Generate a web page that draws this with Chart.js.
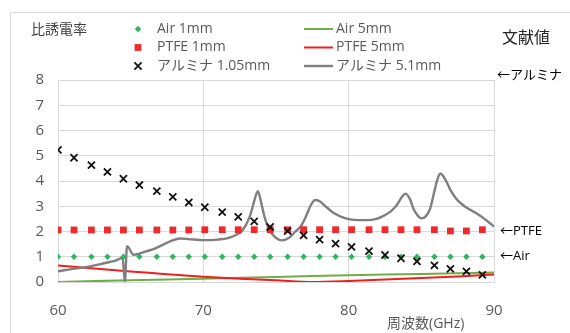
<!DOCTYPE html>
<html lang="ja">
<head>
<meta charset="utf-8">
<title>比誘電率 vs 周波数</title>
<script src="https://cdn.jsdelivr.net/npm/chart.js@4/dist/chart.umd.min.js"></script>
<style>
  html, body { margin: 0; padding: 0; background: #fff; }
  #wrap { width: 570px; height: 333px; position: relative; }
</style>
</head>
<body>
<div id="wrap"><canvas id="c" width="570" height="333"></canvas></div>
<script>
// Measurement frequencies for the thin samples (GHz)
const freqGHz = [60.0, 61.1, 62.3, 63.4, 64.5, 65.6, 66.8, 67.9, 69.0, 70.1,
                 71.3, 72.4, 73.5, 74.6, 75.8, 76.9, 78.0, 79.1, 80.2, 81.4,
                 82.5, 83.6, 84.7, 85.9, 87.0, 88.1, 89.2];

// Relative permittivity, thin samples (markers)
const air1mm = [1.0, 1.0, 1.0, 1.0, 1.0, 1.0, 1.0, 1.0, 1.0, 1.0,
                1.0, 1.0, 1.0, 1.0, 1.0, 1.0, 1.0, 1.0, 1.0, 1.0,
                1.0, 1.0, 1.0, 1.0, 1.0, 1.0, 1.0];
const ptfe1mm = [2.06, 2.06, 2.06, 2.06, 2.06, 2.06, 2.06, 2.06, 2.06, 2.07,
                 2.07, 2.07, 2.07, 2.07, 2.07, 2.07, 2.07, 2.07, 2.07, 2.07,
                 2.07, 2.07, 2.07, 2.07, 2.02, 2.02, 2.07];
const alumina105 = [5.23, 4.92, 4.63, 4.36, 4.09, 3.84, 3.60, 3.37, 3.15, 2.96,
                    2.77, 2.58, 2.40, 2.18, 2.02, 1.85, 1.68, 1.52, 1.39, 1.22,
                    1.07, 0.94, 0.82, 0.66, 0.52, 0.42, 0.28];

// Thick samples (continuous sweeps)
const air5mmFreq = [60, 65, 70, 75, 80, 85, 90];
const air5mm     = [0.00, 0.07, 0.13, 0.20, 0.27, 0.32, 0.38];

const ptfe5mmFreq = [60, 62.5, 65, 67.5, 70, 72.5, 75, 77.5, 80, 82.5, 85, 87.5, 90];
const ptfe5mm     = [0.65, 0.53, 0.42, 0.31, 0.21, 0.13, 0.07, 0.00, 0.04, 0.10, 0.16, 0.22, 0.30];

const alumina51Freq = [60.0, 61.0, 62.0, 63.0, 64.0, 64.45, 64.6, 64.75, 65.2, 65.6,
                       66.0, 66.7, 67.3, 67.8, 68.4, 69.0, 70.0, 71.0, 71.7, 72.3,
                       72.7, 73.2, 73.5, 73.75, 74.0, 74.2, 74.5, 74.9, 75.4, 75.9,
                       76.3, 76.7, 77.1, 77.4, 77.7, 78.0, 78.5, 79.0, 79.5, 80.1,
                       80.7, 81.3, 81.9, 82.4, 82.9, 83.3, 83.7, 83.9, 84.2, 84.5,
                       84.8, 85.0, 85.3, 85.6, 85.9, 86.1, 86.3, 86.5, 86.75, 87.0,
                       87.4, 87.8, 88.1, 88.7, 89.3, 90.0];
const alumina51 = [0.42, 0.52, 0.60, 0.72, 0.86, 0.95, 0.00, 1.42, 1.08, 1.12,
                   1.20, 1.33, 1.50, 1.63, 1.72, 1.70, 1.66, 1.68, 1.74, 1.88,
                   2.05, 2.60, 3.20, 3.60, 3.10, 2.60, 2.12, 1.80, 1.65, 1.75,
                   1.98, 2.20, 2.65, 3.05, 3.25, 3.20, 2.95, 2.72, 2.58, 2.48,
                   2.45, 2.45, 2.50, 2.62, 2.80, 3.04, 3.40, 3.50, 3.30, 2.85,
                   2.60, 2.52, 2.60, 2.90, 3.60, 4.05, 4.30, 4.20, 3.95, 3.65,
                   3.30, 3.08, 2.95, 2.75, 2.52, 2.20];

// Literature values marked on the right edge
const refMarks = [
  { text: '←PTFE', value: 2.0 },
  { text: '←Air',  value: 1.0 }
];
const refTop = '←アルミナ';

const FONT = '"Open Sans", "Noto Sans CJK JP", sans-serif';
const GRID = '#d9d9d9';
const TEXT_GRAY = '#595959';

const pts = (xs, ys) => xs.map((x, i) => ({ x: x, y: ys[i] }));

const datasets = [
  { label: 'Air 1mm', data: pts(freqGHz, air1mm), showLine: false,
    pointStyle: 'rectRot', pointRadius: 3.2, pointBackgroundColor: '#2fb55c',
    pointBorderColor: '#2fb55c', pointBorderWidth: 0, order: 2 },
  { label: 'PTFE 1mm', data: pts(freqGHz, ptfe1mm), showLine: false,
    pointStyle: 'rect', pointRadius: 4.8, pointBackgroundColor: '#ee2a2d',
    pointBorderColor: '#ee2a2d', pointBorderWidth: 0, order: 1 },
  { label: 'アルミナ 1.05mm', data: pts(freqGHz, alumina105), showLine: false,
    pointStyle: 'crossRot', pointRadius: 5, pointBackgroundColor: '#000',
    pointBorderColor: '#111', pointBorderWidth: 1.8, order: 0 },
  { label: 'Air 5mm', data: pts(air5mmFreq, air5mm), showLine: true,
    borderColor: '#70ad47', borderWidth: 2, pointRadius: 0, tension: 0.3, order: 5 },
  { label: 'PTFE 5mm', data: pts(ptfe5mmFreq, ptfe5mm), showLine: true,
    borderColor: '#f21d1d', borderWidth: 2, pointRadius: 0, tension: 0.3, order: 4 },
  { label: 'アルミナ 5.1mm', data: pts(alumina51Freq, alumina51), showLine: true,
    borderColor: '#7f7f7f', borderWidth: 2.4, pointRadius: 0,
    cubicInterpolationMode: 'monotone', order: 3 }
];

// Page frame, axis captions, two-column legend and literature marks
const decorations = {
  id: 'decorations',
  beforeDraw(chart) {
    const ctx = chart.ctx;
    ctx.save();
    ctx.fillStyle = '#fff';
    ctx.fillRect(0, 0, chart.width, chart.height);
    ctx.strokeStyle = GRID;
    ctx.lineWidth = 1;
    ctx.strokeRect(10.5, 12.5, 700, 400);
    ctx.restore();
  },
  afterDraw(chart) {
    const ctx = chart.ctx;
    const yScale = chart.scales.y;
    const area = chart.chartArea;
    ctx.save();
    ctx.textBaseline = 'middle';

    // axis captions
    ctx.fillStyle = '#404040';
    ctx.font = '14px ' + FONT;
    ctx.textAlign = 'left';
    ctx.fillText('比誘電率', 31, 30);
    ctx.fillStyle = TEXT_GRAY;
    ctx.font = '14px ' + FONT;
    ctx.fillText('周波数(GHz)', 387, 324);

    // legend
    const rows = [29, 47.5, 66];
    const col1Marker = 138, col1Text = 157;
    const col2LineA = 304, col2LineB = 333, col2Text = 336;
    ctx.font = '14px ' + FONT;
    chart.data.datasets.forEach((ds, i) => {
      const row = rows[i % 3];
      ctx.save();
      if (!ds.showLine) {
        ctx.fillStyle = ds.pointBackgroundColor;
        ctx.strokeStyle = ds.pointBorderColor;
        ctx.lineWidth = ds.pointBorderWidth;
        const opts = { pointStyle: ds.pointStyle, radius: ds.pointRadius,
                       rotation: 0, borderWidth: ds.pointBorderWidth };
        if (Chart.helpers && Chart.helpers.drawPoint) {
          Chart.helpers.drawPoint(ctx, opts, col1Marker, row);
        }
        ctx.restore();
        ctx.fillStyle = TEXT_GRAY;
        ctx.fillText(ds.label, col1Text, row);
      } else {
        ctx.strokeStyle = ds.borderColor;
        ctx.lineWidth = ds.borderWidth;
        ctx.beginPath();
        ctx.moveTo(col2LineA, row);
        ctx.lineTo(col2LineB, row);
        ctx.stroke();
        ctx.restore();
        ctx.fillStyle = TEXT_GRAY;
        ctx.fillText(ds.label, col2Text, row);
      }
    });

    // literature values
    ctx.fillStyle = '#262626';
    ctx.font = '16px ' + FONT;
    ctx.fillText('文献値', 502, 38);
    ctx.font = '13px ' + FONT;
    ctx.fillStyle = '#000';
    ctx.fillText(refTop, 497, area.top - 5);
    refMarks.forEach(m => {
      ctx.fillText(m.text, 500, yScale.getPixelForValue(m.value));
    });
    ctx.restore();
  }
};

new Chart(document.getElementById('c'), {
  type: 'scatter',
  data: { datasets: datasets },
  options: {
    responsive: false,
    animation: false,
    events: [],
    layout: { padding: { left: 0, top: 80, right: 76, bottom: 0 } },
    plugins: { legend: { display: false }, title: { display: false }, tooltip: { enabled: false } },
    scales: {
      x: {
        type: 'linear', min: 60, max: 90,
        ticks: { stepSize: 10, color: TEXT_GRAY, font: { family: FONT, size: 15 }, padding: 20 },
        grid: { color: GRID, lineWidth: 1, drawTicks: false },
        border: { color: GRID },
        afterFit(scale) { scale.height = 51; }
      },
      y: {
        min: 0, max: 8,
        ticks: { stepSize: 1, color: TEXT_GRAY, font: { family: FONT, size: 15 }, padding: 14 },
        grid: { color: GRID, lineWidth: 1, drawTicks: false },
        border: { color: GRID },
        afterFit(scale) { scale.width = 58; }
      }
    }
  },
  plugins: [decorations]
});
</script>
</body>
</html>
